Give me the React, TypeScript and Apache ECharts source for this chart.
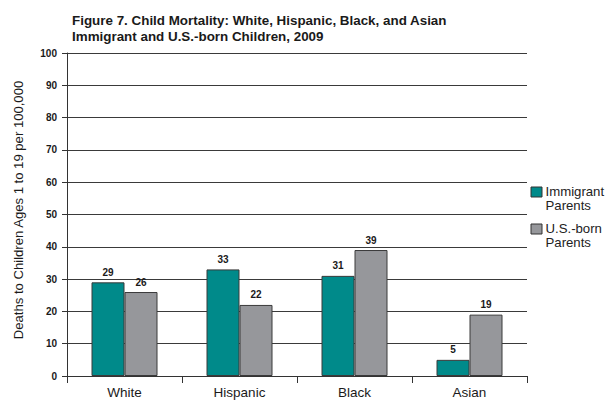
import React, { useEffect, useRef } from "react";
import * as echarts from "echarts";

const categories = ["White", "Hispanic", "Black", "Asian"];
const immigrantValues = [29, 33, 31, 5];
const usBornValues = [26, 22, 39, 19];
const seriesNames = ["Immigrant Parents", "U.S.-born Parents"];
const seriesColors = ["#008a8a", "#96979b"];
const titleLines = [
  "Figure 7. Child Mortality: White, Hispanic, Black, and Asian",
  "Immigrant and U.S.-born Children, 2009",
];
const yAxisTitle = "Deaths to Children Ages 1 to 19 per 100,000";

const FONT = "'Liberation Sans', Arial, sans-serif";

export default function App() {
  const ref = useRef<HTMLDivElement>(null);

  useEffect(() => {
    if (!ref.current) return;
    const chart = echarts.init(ref.current, null, { renderer: "svg" });

    const legendX = 531;
    const legendTops = [187, 224];
    const legendGraphics: any[] = [];
    seriesNames.forEach((name, i) => {
      legendGraphics.push({
        type: "rect",
        shape: { x: legendX, y: legendTops[i], width: 11, height: 10 },
        style: { fill: seriesColors[i], stroke: "#333", lineWidth: 1 },
      });
      const words = name.split(" ");
      const last = words.pop();
      legendGraphics.push({
        type: "text",
        x: legendX + 14.5,
        y: legendTops[i] - 3,
        style: {
          text: words.join(" ") + "\n" + last,
          font: `13.2px ${FONT}`,
          lineHeight: 14.5,
          fill: "#222",
          textAlign: "left",
          textVerticalAlign: "top",
        },
      });
    });

    const barStyle = (color: string) => ({
      color,
      borderColor: "#3a3a3a",
      borderWidth: 1,
    });

    const valueLabel = {
      show: true,
      position: "top",
      distance: 5,
      fontFamily: FONT,
      fontSize: 10,
      fontWeight: "bold",
      color: "#1a1a1a",
    };

    chart.setOption({
      animation: false,
      backgroundColor: "#fff",
      title: {
        text: titleLines.join("\n"),
        left: 67,
        top: 8,
        textStyle: {
          fontFamily: FONT,
          fontSize: 13.4,
          fontWeight: "bold",
          color: "#1a1a1a",
          lineHeight: 15.7,
        },
      },
      grid: { left: 67, right: 78, top: 53, bottom: 25, containLabel: false },
      xAxis: {
        type: "category",
        data: categories,
        axisLine: { show: true, lineStyle: { color: "#333", width: 1 } },
        axisTick: { show: true, length: 7, alignWithLabel: false, lineStyle: { color: "#333" } },
        axisLabel: { fontFamily: FONT, fontSize: 13.5, color: "#1a1a1a", margin: 9 },
      },
      yAxis: {
        type: "value",
        min: 0,
        max: 100,
        interval: 10,
        name: yAxisTitle,
        nameLocation: "middle",
        nameGap: 42,
        nameTextStyle: {
          fontFamily: FONT,
          fontSize: 13.1,
          color: "#1a1a1a",
          padding: [0, 0, 0, 9],
        },
        axisLine: { show: true, lineStyle: { color: "#333", width: 1 } },
        axisTick: { show: true, length: 5, lineStyle: { color: "#333" } },
        axisLabel: { fontFamily: FONT, fontSize: 10, fontWeight: "bold", color: "#1a1a1a", margin: 10 },
        splitLine: { show: true, lineStyle: { color: "#3a3a3a", width: 1 } },
      },
      series: [
        {
          name: seriesNames[0],
          type: "bar",
          data: immigrantValues,
          barWidth: 33,
          barGap: "0%",
          itemStyle: barStyle(seriesColors[0]),
          label: valueLabel,
        },
        {
          name: seriesNames[1],
          type: "bar",
          data: usBornValues,
          barWidth: 33,
          barGap: "0%",
          itemStyle: barStyle(seriesColors[1]),
          label: valueLabel,
        },
      ],
      graphic: legendGraphics,
    });

    return () => chart.dispose();
  }, []);

  return <div ref={ref} style={{ width: 605, height: 401, position: "absolute", left: 0, top: 0 }} />;
}
